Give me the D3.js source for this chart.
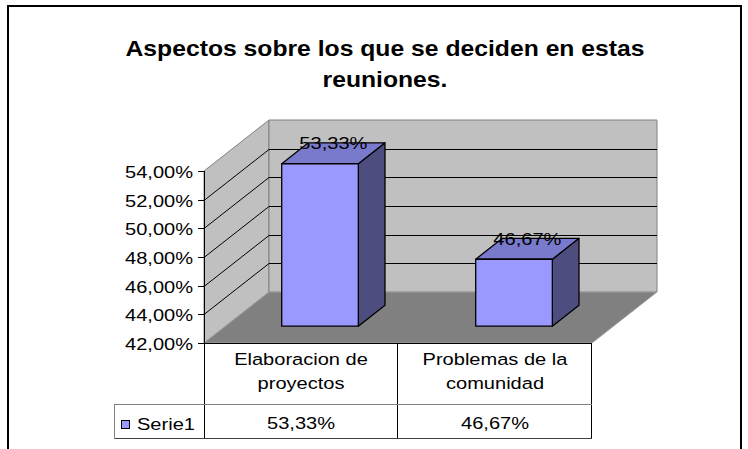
<!DOCTYPE html>
<html><head><meta charset="utf-8">
<script src="https://cdn.jsdelivr.net/npm/d3@7"></script>
<style>body{margin:0;background:#fff}svg{display:block}text{font-family:Arial,"Liberation Sans",sans-serif;fill:#000}</style>
</head><body><svg id="c" width="748" height="449"></svg>
<script>
const titleLines = ["Aspectos sobre los que se deciden en estas", "reuniones."];
const categories = ["Elaboracion de proyectos", "Problemas de la comunidad"];
const categoryLines = [["Elaboracion de", "proyectos"], ["Problemas de la", "comunidad"]];
const seriesName = "Serie1";
const values = [0.5333, 0.4667];
const yTicks = [0.42, 0.44, 0.46, 0.48, 0.50, 0.52, 0.54];

const locale = d3.formatLocale({decimal: ",", thousands: ".", grouping: [3], currency: ["", "€"], percent: "%"});
const fmt = locale.format(".2%");

const svg = d3.select("#c");
const SX = 1.18;               // horizontal stretch of the text in the original
const DX = 65, DY = -51;       // full depth offset of the 3D box
const F0 = 0.33, F1 = 0.74;    // depth fraction of bars
const y = d3.scaleLinear().domain([0.42, 0.54]).range([343, 171]);
const x = d3.scaleBand().domain(categories).range([204, 592]);
const bw = x.bandwidth();
const X0 = x.range()[0], X1 = x.range()[1];
const yB = y(0.42), yT = y(0.54);

// frame
svg.append("rect").attr("x", 8).attr("y", 6).attr("width", 733).attr("height", 460)
  .attr("fill", "none").attr("stroke", "#000").attr("stroke-width", 2);

function txt(g, s, tx, ty, anchor, size, weight, sx) {
  return g.append("text").attr("transform", `translate(${tx},${ty}) scale(${sx || SX},1)`)
    .attr("text-anchor", anchor).style("font-size", size + "px").style("font-weight", weight || "normal").text(s);
}

// title
titleLines.forEach((t, i) => txt(svg, t, 385, 56 + i * 31, "middle", 23, "bold", 1.075));

const pts = a => a.map(p => p.join(",")).join(" ");
// side wall
svg.append("polygon").attr("points", pts([[X0, yB], [X0, yT], [X0 + DX, yT + DY], [X0 + DX, yB + DY]]))
  .attr("fill", "#c0c0c0").attr("stroke", "#808080").attr("stroke-width", 1);
// back wall
svg.append("polygon").attr("points", pts([[X0 + DX, yB + DY], [X0 + DX, yT + DY], [X1 + DX, yT + DY], [X1 + DX, yB + DY]]))
  .attr("fill", "#c0c0c0").attr("stroke", "#808080").attr("stroke-width", 1);
// floor
svg.append("polygon").attr("points", pts([[X0, yB], [X1, yB], [X1 + DX, yB + DY], [X0 + DX, yB + DY]]))
  .attr("fill", "#808080").attr("stroke", "#a0a0a0").attr("stroke-width", 1);

// gridlines
const inner = yTicks.filter(t => t > 0.42 + 1e-9 && t < 0.54 - 1e-9);
inner.forEach(t => {
  const yy = Math.round(y(t)) + 0.5;
  svg.append("polyline").attr("points", pts([[X0, yy], [X0 + DX, yy + DY], [X1 + DX, yy + DY]]))
    .attr("fill", "none").attr("stroke", "#000").attr("stroke-width", 1);
});

// bars
values.forEach((v, i) => {
  const c = categories[i];
  const xl = x(c) + bw * 0.29, xr = xl + bw * 0.395;
  const ox0 = DX * F0, oy0 = DY * F0, ox1 = DX * F1, oy1 = DY * F1;
  const fl = xl + ox0, fr = xr + ox0, ft = y(v) + oy0, fb = yB + oy0;
  const dx = ox1 - ox0, dy = oy1 - oy0;
  const g = svg.append("g").attr("stroke", "#000").attr("stroke-width", 1.3).attr("stroke-linejoin", "round");
  g.append("polygon").attr("points", pts([[fr, ft], [fr + dx, ft + dy], [fr + dx, fb + dy], [fr, fb]])).attr("fill", "#4d4d80");
  g.append("polygon").attr("points", pts([[fl, ft], [fl + dx, ft + dy], [fr + dx, ft + dy], [fr, ft]])).attr("fill", "#7a7acc");
  g.append("rect").attr("x", fl).attr("y", ft).attr("width", fr - fl).attr("height", fb - ft).attr("fill", "#9999ff");
  txt(svg, fmt(v), (fl + fr) / 2 + dx / 2, ft + dy / 2 - 4, "middle", 17);
});

// axis
svg.append("line").attr("x1", X0 + 0.5).attr("x2", X0 + 0.5).attr("y1", yT).attr("y2", 439)
  .attr("stroke", "#000").attr("stroke-width", 1);
yTicks.forEach(t => {
  const yy = Math.round(y(t)) + 0.5;
  svg.append("line").attr("x1", X0 - 6).attr("x2", X0).attr("y1", yy).attr("y2", yy).attr("stroke", "#000");
  txt(svg, fmt(t), 193, yy + 6, "end", 17);
});

// data table
svg.append("line").attr("x1", X0).attr("x2", X1).attr("y1", yB + 0.5).attr("y2", yB + 0.5).attr("stroke", "#000");
categories.forEach((c, i) => {
  const xe = x(c) + bw;
  svg.append("line").attr("x1", Math.round(xe) - 0.5).attr("x2", Math.round(xe) - 0.5).attr("y1", yB).attr("y2", 439).attr("stroke", "#000");
  categoryLines[i].forEach((l, j) => txt(svg, l, x(c) + bw / 2, 365 + j * 24, "middle", 17));
  txt(svg, fmt(values[i]), x(c) + bw / 2, 429, "middle", 17);
});
svg.append("line").attr("x1", 114).attr("x2", X1).attr("y1", 404.5).attr("y2", 404.5).attr("stroke", "#808080");
svg.append("line").attr("x1", 114).attr("x2", X1).attr("y1", 438.5).attr("y2", 438.5).attr("stroke", "#404040");
svg.append("line").attr("x1", 114.5).attr("x2", 114.5).attr("y1", 404).attr("y2", 439).attr("stroke", "#808080");
svg.append("rect").attr("x", 121.5).attr("y", 420.5).attr("width", 8).attr("height", 8)
  .attr("fill", "#9999ff").attr("stroke", "#000");
txt(svg, seriesName, 137, 430, "start", 17);
</script></body></html>
